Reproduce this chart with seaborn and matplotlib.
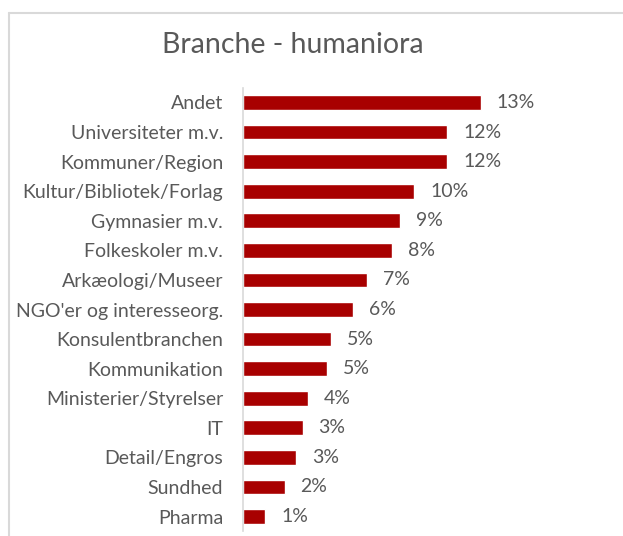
import matplotlib
matplotlib.use("Agg")
import matplotlib.pyplot as plt
import seaborn as sns
import pandas as pd

categories = [
    "Andet", "Universiteter m.v.", "Kommuner/Region", "Kultur/Bibliotek/Forlag",
    "Gymnasier m.v.", "Folkeskoler m.v.", "Arkæologi/Museer", "NGO'er og interesseorg.",
    "Konsulentbranchen", "Kommunikation", "Ministerier/Styrelser", "IT",
    "Detail/Engros", "Sundhed", "Pharma",
]
shares = [13.45, 11.56, 11.56, 9.67, 8.88, 8.44, 6.99, 6.19,
          4.95, 4.74, 3.64, 3.36, 3.0, 2.34, 1.25]

df = pd.DataFrame({"branche": categories, "andel": shares})

sns.set_theme(style="white")
plt.rcParams["font.family"] = ["Lato", "DejaVu Sans"]

text_color = "#595959"
bar_color = "#A80000"

fig = plt.figure(figsize=(6.23, 5.36), dpi=100)
# chart area frame (top and left edge visible)
fig.add_artist(plt.Line2D([8.5 / 623, 1.0], [1 - 12.5 / 536] * 2, color="#d9d9d9", lw=1.5))
fig.add_artist(plt.Line2D([8.5 / 623] * 2, [0.0, 1 - 12.5 / 536], color="#d9d9d9", lw=1.5))

px = 17.65  # pixels per percent
ax = fig.add_axes([243.3 / 623, 1 - 531.3 / 536, 16 * px / 623, (531.3 - 87.7) / 536])
sns.barplot(data=df, x="andel", y="branche", orient="h", color=bar_color,
            width=0.5, saturation=1, ax=ax)

ax.set_xlim(0, 16)
ax.set_ylim(len(categories) - 0.5, -0.5)
ax.set_xlabel("")
ax.set_ylabel("")
ax.set_xticks([])
for s in ["top", "right", "bottom"]:
    ax.spines[s].set_visible(False)
ax.spines["left"].set_color("#d9d9d9")
ax.spines["left"].set_linewidth(1.2)
ax.tick_params(axis="y", length=0, pad=14.5, labelsize=14, labelcolor=text_color)
ax.patch.set_alpha(0)

for i, v in enumerate(shares):
    ax.text(v + 16 / px, i, f"{v:.0f}%", va="center", ha="left",
            fontsize=14, color=text_color)

fig.text(293 / 623, 1 - 45 / 536, "Branche - humaniora", ha="center", va="center",
         fontsize=20.5, color=text_color)

fig.savefig("out.png", dpi=100)
